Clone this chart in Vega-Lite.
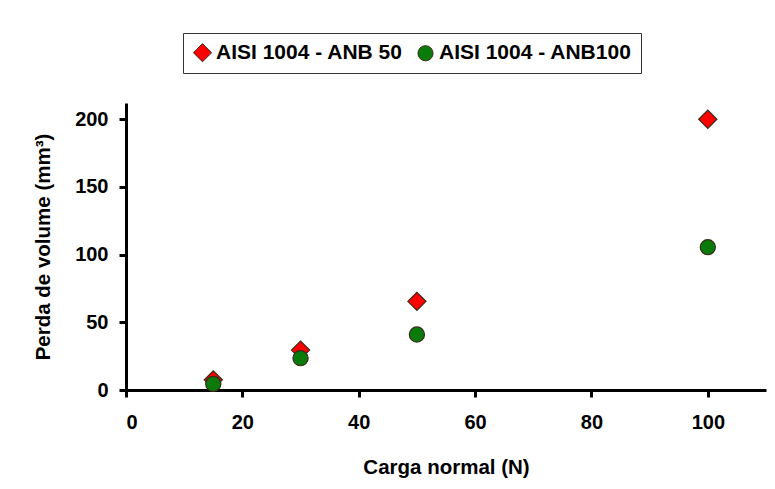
{
  "$schema": "https://vega.github.io/schema/vega-lite/v6.json",
  "width": 640,
  "height": 287,
  "autosize": {"type": "none"},
  "padding": {"left": 126, "top": 103, "right": 9, "bottom": 99},
  "background": "white",
  "config": {
    "view": {"stroke": null},
    "font": "Liberation Sans"
  },
  "data": {
    "values": [
      {"carga": 15, "perda": 7.5, "serie": "AISI 1004 - ANB 50"},
      {"carga": 30, "perda": 29.5, "serie": "AISI 1004 - ANB 50"},
      {"carga": 50, "perda": 65.5, "serie": "AISI 1004 - ANB 50"},
      {"carga": 100, "perda": 200, "serie": "AISI 1004 - ANB 50"},
      {"carga": 15, "perda": 4.5, "serie": "AISI 1004 - ANB100"},
      {"carga": 30, "perda": 23.5, "serie": "AISI 1004 - ANB100"},
      {"carga": 50, "perda": 41, "serie": "AISI 1004 - ANB100"},
      {"carga": 100, "perda": 105.5, "serie": "AISI 1004 - ANB100"}
    ]
  },
  "mark": {"type": "point", "filled": true, "opacity": 1, "strokeWidth": 1.2, "stroke": "#3a2a1a"},
  "encoding": {
    "x": {
      "field": "carga", "type": "quantitative",
      "scale": {"domain": [0, 110], "nice": false, "zero": true},
      "axis": {
        "title": "Carga normal (N)",
        "values": [0, 20, 40, 60, 80, 100],
        "grid": false,
        "domainColor": "black", "domainWidth": 3,
        "tickColor": "black", "tickWidth": 3, "tickSize": 7,
        "labelFontSize": 20, "labelFontWeight": "bold", "labelColor": "black", "labelPadding": 15,
        "titleFontSize": 20.5, "titleFontWeight": "bold", "titleColor": "black", "titlePadding": 25
      }
    },
    "y": {
      "field": "perda", "type": "quantitative",
      "scale": {"domain": [0, 212], "nice": false},
      "axis": {
        "title": "Perda de volume (mm³)",
        "values": [0, 50, 100, 150, 200],
        "grid": false,
        "domainColor": "black", "domainWidth": 3,
        "tickColor": "black", "tickWidth": 3, "tickSize": 7,
        "labelFontSize": 20, "labelFontWeight": "bold", "labelColor": "black", "labelPadding": 11,
        "titleFontSize": 20.5, "titleFontWeight": "bold", "titleColor": "black", "titlePadding": 21
      }
    },
    "shape": {
      "field": "serie", "type": "nominal",
      "scale": {"domain": ["AISI 1004 - ANB 50", "AISI 1004 - ANB100"], "range": ["diamond", "circle"]},
      "legend": {
        "title": null,
        "orient": "none",
        "legendX": 57,
        "legendY": -70,
        "direction": "horizontal",
        "strokeColor": "#333333",
        "fillColor": "white",
        "padding": 9,
        "labelFontSize": 21,
        "labelFontWeight": "bold",
        "labelColor": "black",
        "labelLimit": 400,
        "symbolStrokeColor": "#3a2a1a",
        "symbolStrokeWidth": 1,
        "symbolSize": 220,
        "columnPadding": 12,
        "labelOffset": 3
      }
    },
    "size": {
      "field": "serie", "type": "nominal",
      "scale": {"domain": ["AISI 1004 - ANB 50", "AISI 1004 - ANB100"], "range": [330, 230]},
      "legend": null
    },
    "color": {
      "field": "serie", "type": "nominal",
      "scale": {"domain": ["AISI 1004 - ANB 50", "AISI 1004 - ANB100"], "range": ["#ff0000", "#0a7a0a"]},
      "legend": {
        "title": null,
        "orient": "none",
        "legendX": 57,
        "legendY": -70,
        "direction": "horizontal",
        "strokeColor": "#333333",
        "fillColor": "white",
        "padding": 9,
        "labelFontSize": 21,
        "labelFontWeight": "bold",
        "labelColor": "black",
        "labelLimit": 400,
        "symbolStrokeColor": "#3a2a1a",
        "symbolStrokeWidth": 1,
        "symbolSize": 220,
        "columnPadding": 12,
        "labelOffset": 3
      }
    }
  }
}
